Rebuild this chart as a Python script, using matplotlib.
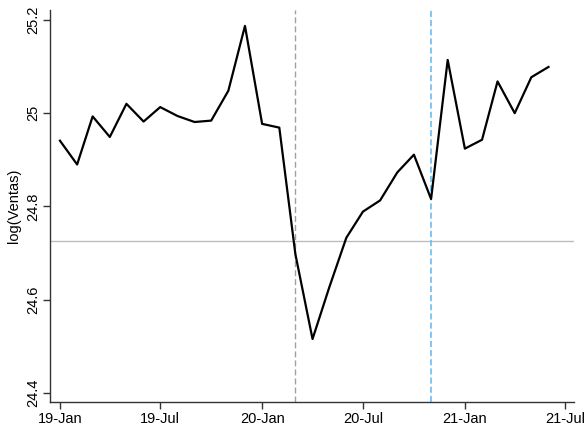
import numpy as np
import pandas as pd
import matplotlib
matplotlib.use('Agg')
import matplotlib.pyplot as plt
import matplotlib.dates as mdates

plt.rcParams['font.family'] = ['Liberation Sans', 'DejaVu Sans']

########################################################################
# data: monthly log sales, Jan 2019 - Jun 2021
months = pd.date_range('2019-01-01', '2021-06-01', freq='MS')
log_ventas = [24.941, 24.890, 24.993, 24.949, 25.020, 24.982, 25.013, 24.994,
              24.981, 24.984, 25.048, 25.187, 24.977, 24.969, 24.698, 24.516,
              24.626, 24.733, 24.789, 24.813, 24.873, 24.911, 24.816, 25.114,
              24.924, 24.943, 25.068, 25.000, 25.077, 25.099]
ref_level = 24.727
event_gray = pd.Timestamp('2020-03-01')
event_blue = pd.Timestamp('2020-11-01')
xticks = pd.date_range('2019-01-01', '2021-07-01', freq='6MS')
yticks = [24.4, 24.6, 24.8, 25.0, 25.2]
ytick_labels = ['24.4', '24.6', '24.8', '25', '25.2']

########################################################################
fig = plt.figure(figsize=(5.86, 4.3), dpi=100)
ax = fig.add_axes([0.0853, 0.0651, 0.8942, 0.9116])

ax.axhline(ref_level, color='#bdbdbd', lw=1.0, zorder=1)
ax.axvline(event_gray, color='#a0a0a0', lw=1.0, ls=(0, (4.3, 2.2)), zorder=1)
ax.axvline(event_blue, color='#5fb6ef', lw=1.1, ls=(0, (4.0, 2.0)), zorder=1)
ax.plot(months, log_ventas, color='black', lw=1.6, zorder=3)

ax.set_xlim(pd.Timestamp('2018-12-14'), pd.Timestamp('2021-07-17'))
ax.set_ylim(24.381, 25.221)
ax.set_xticks(xticks)
ax.xaxis.set_major_formatter(mdates.DateFormatter('%y-%b'))
ax.set_yticks(yticks)
ax.set_yticklabels(ytick_labels, rotation=90, va='center')
ax.set_ylabel('log(Ventas)', fontsize=10.5, labelpad=4)

for s in ['top', 'right']:
    ax.spines[s].set_visible(False)
for s in ['left', 'bottom']:
    ax.spines[s].set_color('#333333')
    ax.spines[s].set_linewidth(1.0)
ax.tick_params(axis='both', direction='out', length=5, width=1.0,
               color='#333333', labelsize=10.5, pad=2)

fig.savefig('out.png', dpi=100)
